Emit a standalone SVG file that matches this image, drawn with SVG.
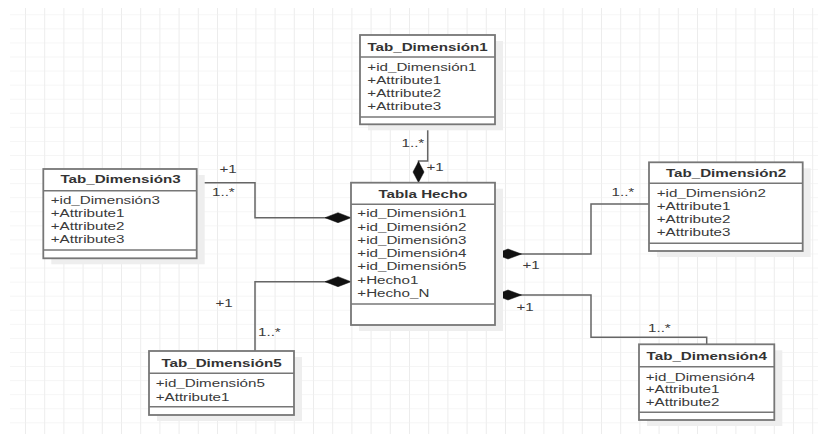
<svg xmlns="http://www.w3.org/2000/svg" width="818" height="434" viewBox="0 0 818 434">
<style>
.t{font-family:"Liberation Sans",Arial,sans-serif;font-size:11.5px;fill:#3a3a3a}
.b{font-weight:bold;text-anchor:middle;fill:#333}
.box{fill:#fff;stroke:#777;stroke-width:1.8}
.sep{stroke:#777;stroke-width:1.5}
.sh{fill:#eeeeee}
.ln{fill:none;stroke:#666;stroke-width:1.5}
.dm{fill:#111;stroke:#111;stroke-width:0.5}
</style>
<defs>
<pattern id="grid" patternUnits="userSpaceOnUse" x="5.8" y="0.25" width="19.2" height="14.07">
<line x1="0" y1="0" x2="0" y2="14.07" stroke="#e9e9e9" stroke-width="1.6"/>
<line x1="0" y1="0" x2="19.2" y2="0" stroke="#efefef" stroke-width="1.2"/>
</pattern>
</defs>
<rect x="0" y="0" width="818" height="434" fill="#fff"/>
<rect x="10" y="8" width="808" height="426" fill="url(#grid)"/>

<g id="connectors">
<polyline class="ln" points="427.7,124 427.7,161 418.5,161 418.5,170"/>
<polygon class="dm" points="418.5,161.5 424,172 418.5,182.5 413,172"/>
<polyline class="ln" points="196.7,182.7 255,182.7 255,217.7 330,217.7"/>
<polygon class="dm" points="325,217.7 338,212.7 351,217.7 338,222.7"/>
<polyline class="ln" points="510,254 591,254 591,204 649,204"/>
<polygon class="dm" points="495,254 508,249 521.5,254 508,259"/>
<polyline class="ln" points="510,295 591,295 591,337.3 706.7,337.3 706.7,344.3"/>
<polygon class="dm" points="495,295 508,290 521.5,295 508,300"/>
<polyline class="ln" points="255,351 255,281.7 330,281.7"/>
<polygon class="dm" points="325,281.7 338,276.7 351,281.7 338,286.7"/>
<g class="t">
<text transform="translate(401.5 147) scale(1.32 1)">1..*</text>
<text transform="translate(426.5 170.7) scale(1.32 1)">+1</text>
<text transform="translate(219.5 173.3) scale(1.32 1)">+1</text>
<text transform="translate(212 196.3) scale(1.32 1)">1..*</text>
<text transform="translate(611.5 195.7) scale(1.32 1)">1..*</text>
<text transform="translate(522.5 269) scale(1.32 1)">+1</text>
<text transform="translate(516.5 310.7) scale(1.32 1)">+1</text>
<text transform="translate(648 332.3) scale(1.32 1)">1..*</text>
<text transform="translate(215.5 307.3) scale(1.32 1)">+1</text>
<text transform="translate(258 335.7) scale(1.32 1)">1..*</text>
</g>
</g>

<g id="dim1">
<rect class="sh" x="368" y="41" width="135" height="89.3"/>
<rect class="box" x="360" y="35" width="135" height="89.3"/>
<line class="sep" x1="360" y1="57" x2="495" y2="57"/>
<line class="sep" x1="360" y1="117" x2="495" y2="117"/>
<text class="t b" transform="translate(427.5 50.7) scale(1.32 1)">Tab_Dimensión1</text>
<text class="t" transform="translate(367.3 70.7) scale(1.32 1)"><tspan x="0" y="0">+id_Dimensión1</tspan><tspan x="0" y="13">+Attribute1</tspan><tspan x="0" y="26">+Attribute2</tspan><tspan x="0" y="39">+Attribute3</tspan></text>
</g>

<g id="dim3">
<rect class="sh" x="51.3" y="175" width="153.4" height="89.3"/>
<rect class="box" x="43.3" y="169" width="153.4" height="89.3"/>
<line class="sep" x1="43.3" y1="190.7" x2="196.7" y2="190.7"/>
<line class="sep" x1="43.3" y1="250" x2="196.7" y2="250"/>
<text class="t b" transform="translate(120.5 183.3) scale(1.32 1)">Tab_Dimensión3</text>
<text class="t" transform="translate(50.7 204) scale(1.32 1)"><tspan x="0" y="0">+id_Dimensión3</tspan><tspan x="0" y="13">+Attribute1</tspan><tspan x="0" y="26">+Attribute2</tspan><tspan x="0" y="39">+Attribute3</tspan></text>
</g>

<g id="hecho">
<rect class="sh" x="359" y="188.7" width="144" height="142.3"/>
<rect class="box" x="351" y="182.7" width="144" height="142.3"/>
<line class="sep" x1="351" y1="204.3" x2="495" y2="204.3"/>
<line class="sep" x1="351" y1="304" x2="495" y2="304"/>
<text class="t b" transform="translate(423 198) scale(1.32 1)">Tabla Hecho</text>
<text class="t" transform="translate(357.3 217.3) scale(1.32 1)"><tspan x="0" y="0">+id_Dimensión1</tspan><tspan x="0" y="13.3">+id_Dimensión2</tspan><tspan x="0" y="26.6">+id_Dimensión3</tspan><tspan x="0" y="39.9">+id_Dimensión4</tspan><tspan x="0" y="53.2">+id_Dimensión5</tspan><tspan x="0" y="66.5">+Hecho1</tspan><tspan x="0" y="79.8">+Hecho_N</tspan></text>
</g>

<g id="dim2">
<rect class="sh" x="657" y="168.3" width="153.7" height="88.7"/>
<rect class="box" x="649" y="162.3" width="153.7" height="88.7"/>
<line class="sep" x1="649" y1="183.3" x2="802.7" y2="183.3"/>
<line class="sep" x1="649" y1="243.3" x2="802.7" y2="243.3"/>
<text class="t b" transform="translate(726 177.3) scale(1.32 1)">Tab_Dimensión2</text>
<text class="t" transform="translate(656.7 197.3) scale(1.32 1)"><tspan x="0" y="0">+id_Dimensión2</tspan><tspan x="0" y="12.8">+Attribute1</tspan><tspan x="0" y="25.6">+Attribute2</tspan><tspan x="0" y="38.4">+Attribute3</tspan></text>
</g>

<g id="dim5">
<rect class="sh" x="157" y="357" width="145" height="64"/>
<rect class="box" x="149" y="351" width="145" height="64"/>
<line class="sep" x1="149" y1="373.3" x2="294" y2="373.3"/>
<line class="sep" x1="149" y1="406.7" x2="294" y2="406.7"/>
<text class="t b" transform="translate(221.5 366.7) scale(1.32 1)">Tab_Dimensión5</text>
<text class="t" transform="translate(155.7 387.3) scale(1.32 1)"><tspan x="0" y="0">+id_Dimensión5</tspan><tspan x="0" y="13.3">+Attribute1</tspan></text>
</g>

<g id="dim4">
<rect class="sh" x="647" y="350.3" width="135.3" height="75.7"/>
<rect class="box" x="639" y="344.3" width="135.3" height="75.7"/>
<line class="sep" x1="639" y1="366.7" x2="774.3" y2="366.7"/>
<line class="sep" x1="639" y1="412.3" x2="774.3" y2="412.3"/>
<text class="t b" transform="translate(706.7 360) scale(1.32 1)">Tab_Dimensión4</text>
<text class="t" transform="translate(645.7 380.7) scale(1.32 1)"><tspan x="0" y="0">+id_Dimensión4</tspan><tspan x="0" y="12.5">+Attribute1</tspan><tspan x="0" y="25">+Attribute2</tspan></text>
</g>
</svg>
